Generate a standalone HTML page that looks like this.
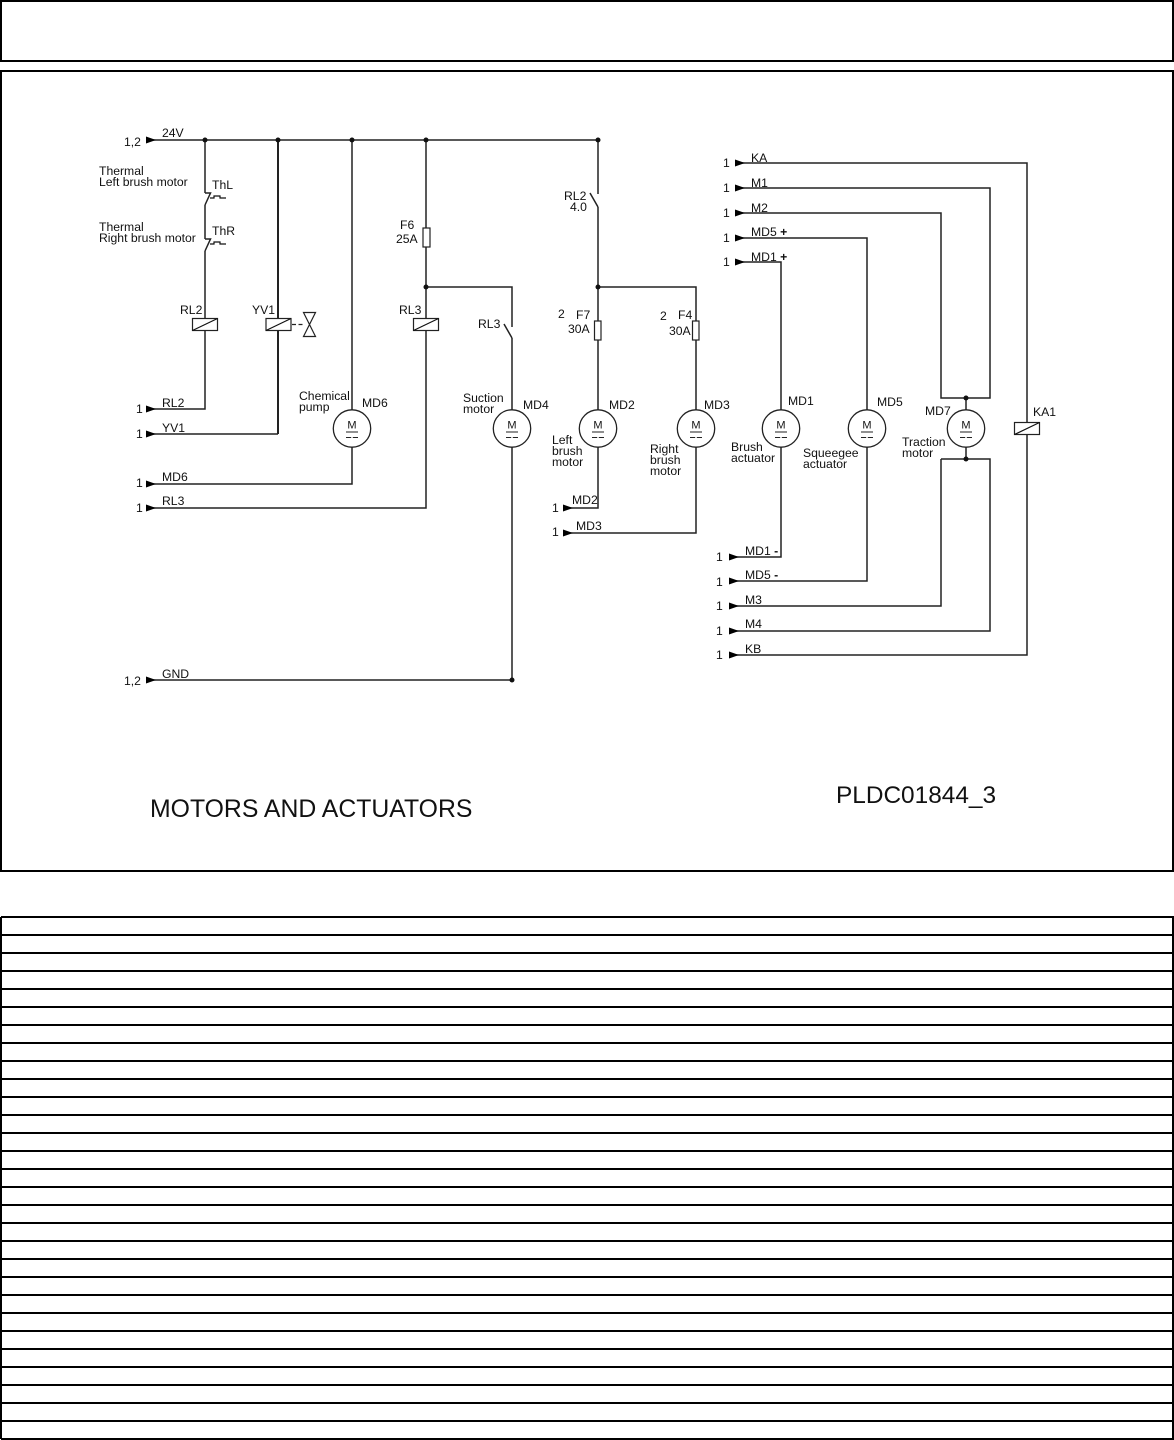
<!DOCTYPE html>
<html><head><meta charset="utf-8"><style>
html,body{margin:0;padding:0;background:#fff}
svg{display:block}
text{font-family:"Liberation Sans",Arial,sans-serif;font-size:12.2px;fill:#111}
.w{fill:none;stroke:#222;stroke-width:1.5}
.t{fill:none;stroke:#111;stroke-width:1.2}
.f{fill:#fff;stroke:#222;stroke-width:1.2}
.b{fill:none;stroke:#000;stroke-width:2}
.d{fill:#111}
</style></head><body>
<svg width="1174" height="1440" viewBox="0 0 1174 1440" xmlns="http://www.w3.org/2000/svg">
<defs>
<polygon id="a" points="0,-3.5 10,0 0,3.5" fill="#000"/>
<g id="m"><circle r="18.7" fill="#fff" stroke="#222" stroke-width="1.3"/>
<text x="0" y="0" text-anchor="middle" style="font-size:11px">M</text>
<path d="M-6 3.500H6M-6 9H-0.8M0.8 9H6" stroke="#222" stroke-width="1" fill="none"/></g>
<g id="c"><rect x="-12.5" y="-6" width="25" height="12" class="f"/><path d="M-12.5 6L12.5 -6" class="t"/></g>
<g id="th"><path d="M0 0H5.5L0 12" class="w"/><path d="M5 5H9V3H15V5H21" class="t"/></g>
</defs>
<rect x="1" y="1" width="1172" height="60" class="b"/>
<rect x="1" y="71" width="1172" height="800" class="b"/>
<path class="b" d="M1 917H1173V1439H1M1 917V1439M1 935H1173M1 953H1173M1 971H1173M1 989H1173M1 1007H1173M1 1025H1173M1 1043H1173M1 1061H1173M1 1079H1173M1 1097H1173M1 1115H1173M1 1133H1173M1 1151H1173M1 1169H1173M1 1187H1173M1 1205H1173M1 1223H1173M1 1241H1173M1 1259H1173M1 1277H1173M1 1295H1173M1 1313H1173M1 1331H1173M1 1349H1173M1 1367H1173M1 1385H1173M1 1403H1173M1 1421H1173"/>

<!-- wires -->
<path class="w" d="M150 140H598V194M598 207V410M598 447V508H568M205 140V193M205 205V239M205 251V409H150"/>
<path class="w" style="stroke-width:2" d="M278 140V434"/>
<path class="w" d="M278 434H150"/>
<path class="w" d="M352 140V484H150M426 140V508H150M426 287H512V327M512 338V680H150M598 287H696V533H568"/>
<path class="w" d="M740 163H1027V655H734M740 188H990V398H941V213H740M740 238H867V581H734M740 262H781V557H734M966 398V459M941 459H990V631H734M941 459V606H734"/>
<path class="w" d="M590 193L598 207M504 324L512 338"/>
<use href="#th" x="205" y="193"/><use href="#th" x="205" y="239"/>

<!-- coils -->
<use href="#c" x="205" y="324.5"/><use href="#c" x="278.500" y="324.5"/><use href="#c" x="426" y="324.5"/><use href="#c" x="1027" y="428.500"/>
<path d="M292 324.5H303" stroke="#222" stroke-width="1.2" stroke-dasharray="4 2.500"/>
<path class="f" d="M303.500 312.500H315.500L303.500 336.500H315.500Z"/>

<!-- fuses -->
<rect x="423" y="228" width="7" height="19" class="f"/><rect x="594.500" y="321" width="6.500" height="19" class="f"/><rect x="692.500" y="321" width="6.500" height="19" class="f"/>

<!-- motors -->
<use href="#m" x="352" y="428.500"/><use href="#m" x="512" y="428.500"/><use href="#m" x="598" y="428.500"/><use href="#m" x="696" y="428.500"/><use href="#m" x="781" y="428.500"/><use href="#m" x="867" y="428.500"/><use href="#m" x="966" y="428.500"/>

<!-- dots -->
<circle class="d" cx="205" cy="140" r="2.500"/><circle class="d" cx="278" cy="140" r="2.500"/><circle class="d" cx="352" cy="140" r="2.500"/><circle class="d" cx="426" cy="140" r="2.500"/><circle class="d" cx="598" cy="140" r="2.500"/><circle class="d" cx="426" cy="287" r="2.500"/><circle class="d" cx="598" cy="287" r="2.500"/><circle class="d" cx="512" cy="680" r="2.500"/><circle class="d" cx="966" cy="398" r="2.500"/><circle class="d" cx="966" cy="459" r="2.500"/>

<!-- arrows -->
<use href="#a" x="146" y="140"/><use href="#a" x="146" y="409"/><use href="#a" x="146" y="434"/><use href="#a" x="146" y="484"/><use href="#a" x="146" y="508"/><use href="#a" x="146" y="680"/><use href="#a" x="563" y="508"/><use href="#a" x="563" y="533"/>
<use href="#a" x="735" y="163"/><use href="#a" x="735" y="188"/><use href="#a" x="735" y="213"/><use href="#a" x="735" y="238"/><use href="#a" x="735" y="262"/>
<use href="#a" x="729" y="557"/><use href="#a" x="729" y="581"/><use href="#a" x="729" y="606"/><use href="#a" x="729" y="631"/><use href="#a" x="729" y="655"/>

<!-- labels -->
<text x="124" y="146">1,2</text><text x="162" y="137">24V</text>
<text x="99" y="175">Thermal</text><text x="99" y="186">Left brush motor</text><text x="212" y="189">ThL</text>
<text x="99" y="231">Thermal</text><text x="99" y="242">Right brush motor</text><text x="212" y="235">ThR</text>
<text x="180" y="314">RL2</text><text x="252" y="314">YV1</text><text x="399" y="314">RL3</text>
<text x="136" y="413">1</text><text x="162" y="407">RL2</text>
<text x="136" y="438">1</text><text x="162" y="432">YV1</text>
<text x="136" y="487">1</text><text x="162" y="481">MD6</text>
<text x="136" y="512">1</text><text x="162" y="505">RL3</text>
<text x="124" y="685">1,2</text><text x="162" y="678">GND</text>
<text x="400" y="229">F6</text><text x="396" y="243">25A</text>
<text x="478" y="328">RL3</text>
<text x="299" y="400">Chemical</text><text x="299" y="411">pump</text><text x="362" y="407">MD6</text>
<text x="463" y="402">Suction</text><text x="463" y="413">motor</text><text x="523" y="409">MD4</text>
<text x="564" y="200">RL2</text><text x="570" y="211">4.0</text>
<text x="558" y="318">2</text><text x="576" y="319">F7</text><text x="568" y="333">30A</text>
<text x="660" y="320">2</text><text x="678" y="319">F4</text><text x="669" y="335">30A</text>
<text x="609" y="409">MD2</text><text x="704" y="409">MD3</text><text x="788" y="405">MD1</text><text x="877" y="406">MD5</text><text x="925" y="415">MD7</text><text x="1033" y="416">KA1</text>
<text x="552" y="444">Left</text><text x="552" y="455">brush</text><text x="552" y="466">motor</text>
<text x="650" y="453">Right</text><text x="650" y="464">brush</text><text x="650" y="475">motor</text>
<text x="731" y="451">Brush</text><text x="731" y="462">actuator</text>
<text x="803" y="457">Squeegee</text><text x="803" y="468">actuator</text>
<text x="902" y="446">Traction</text><text x="902" y="457">motor</text>
<text x="552" y="512">1</text><text x="572" y="504">MD2</text>
<text x="552" y="536">1</text><text x="576" y="530">MD3</text>
<text x="723" y="167">1</text><text x="751" y="162">KA</text>
<text x="723" y="192">1</text><text x="751" y="187">M1</text>
<text x="723" y="217">1</text><text x="751" y="212">M2</text>
<text x="723" y="242">1</text><text x="751" y="236">MD5 <tspan font-weight="bold">+</tspan></text>
<text x="723" y="266">1</text><text x="751" y="261">MD1 <tspan font-weight="bold">+</tspan></text>
<text x="716" y="561">1</text><text x="745" y="555">MD1 <tspan font-weight="bold">-</tspan></text>
<text x="716" y="586">1</text><text x="745" y="579">MD5 <tspan font-weight="bold">-</tspan></text>
<text x="716" y="610">1</text><text x="745" y="604">M3</text>
<text x="716" y="635">1</text><text x="745" y="628">M4</text>
<text x="716" y="659">1</text><text x="745" y="653">KB</text>
<text x="150" y="817" style="font-size:24.8px">MOTORS AND ACTUATORS</text>
<text x="836" y="803" style="font-size:24.4px">PLDC01844_3</text>
</svg>
</body></html>
